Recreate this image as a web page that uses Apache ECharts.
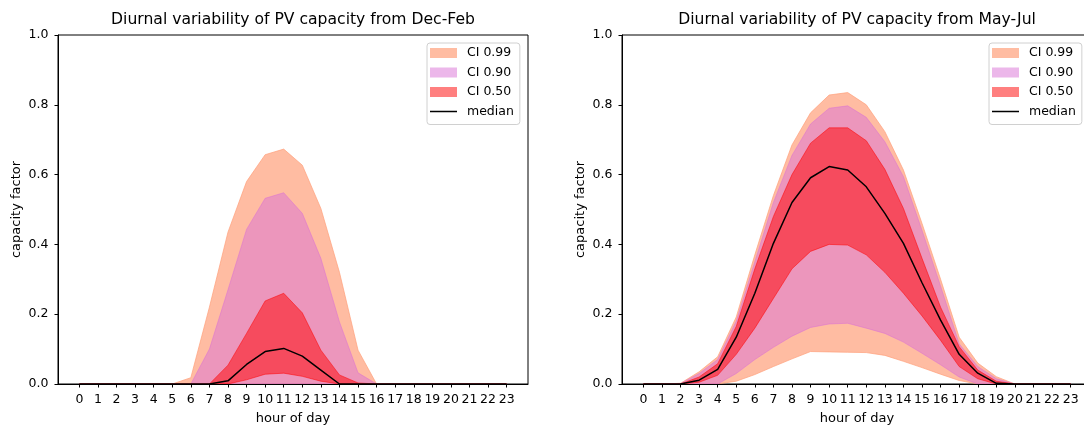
<!DOCTYPE html>
<html>
<head>
<meta charset="utf-8">
<script src="https://cdn.jsdelivr.net/npm/echarts@6/dist/echarts.min.js"></script>
<style>
  html, body { margin: 0; padding: 0; background: #fff; }
  #main { width: 1084px; height: 425px; }
</style>
</head>
<body>
<div id="main"></div>
<script>
// hours on the x axis
var hours = [0,1,2,3,4,5,6,7,8,9,10,11,12,13,14,15,16,17,18,19,20,21,22,23];

// Dec-Feb
var winLo99 = [0,0,0,0,0,0,0,0,0,0,0,0,0,0,0,0,0,0,0,0,0,0,0,0];
var winHi99 = [0,0,0,0,0,0,0.018,0.22,0.435,0.58,0.657,0.673,0.627,0.503,0.32,0.097,0,0,0,0,0,0,0,0];
var winLo90 = [0,0,0,0,0,0,0,0,0,0,0,0,0,0,0,0,0,0,0,0,0,0,0,0];
var winHi90 = [0,0,0,0,0,0,0,0.10,0.27,0.443,0.532,0.548,0.489,0.36,0.178,0.032,0,0,0,0,0,0,0,0];
var winLo50 = [0,0,0,0,0,0,0,0,0,0.012,0.028,0.031,0.022,0.008,0,0,0,0,0,0,0,0,0,0];
var winHi50 = [0,0,0,0,0,0,0,0,0.054,0.145,0.238,0.26,0.204,0.097,0.026,0.003,0,0,0,0,0,0,0,0];
var winMed  = [0,0,0,0,0,0,0,0,0.009,0.056,0.093,0.102,0.08,0.04,0,0,0,0,0,0,0,0,0,0];

// May-Jul
var sumLo99 = [0,0,0,0,0,0.008,0.027,0.05,0.072,0.093,0.092,0.091,0.09,0.082,0.065,0.047,0.028,0.01,0,0,0,0,0,0];
var sumHi99 = [0,0,0.002,0.035,0.078,0.192,0.37,0.54,0.685,0.777,0.828,0.835,0.80,0.723,0.613,0.46,0.30,0.134,0.06,0.021,0,0,0,0];
var sumLo90 = [0,0,0,0,0,0.03,0.07,0.105,0.137,0.162,0.172,0.174,0.16,0.145,0.12,0.088,0.055,0.02,0,0,0,0,0,0];
var sumHi90 = [0,0,0.001,0.03,0.07,0.18,0.35,0.52,0.655,0.745,0.79,0.797,0.764,0.694,0.594,0.44,0.28,0.115,0.05,0.015,0,0,0,0];
var sumLo50 = [0,0,0,0.005,0.025,0.085,0.16,0.245,0.33,0.38,0.40,0.398,0.37,0.32,0.26,0.195,0.125,0.05,0.015,0,0,0,0,0];
var sumHi50 = [0,0,0,0.02,0.058,0.165,0.33,0.48,0.60,0.69,0.734,0.734,0.697,0.615,0.503,0.36,0.22,0.107,0.04,0.008,0,0,0,0];
var sumMed  = [0,0,0,0.011,0.042,0.134,0.26,0.403,0.52,0.591,0.623,0.613,0.565,0.489,0.403,0.29,0.183,0.085,0.031,0.002,0,0,0,0];

var c99 = 'rgba(255,160,122,0.7)';
var c90 = 'rgba(218,112,214,0.5)';
var c50 = 'rgba(255,0,0,0.5)';
var font = 'DejaVu Sans';

var myChart = echarts.init(document.getElementById('main'));

// filled band between lo and hi, drawn as one polygon through the axis scales
function band(idx, lo, hi, color, name) {
  return {
    name: name, type: 'custom', xAxisIndex: idx, yAxisIndex: idx,
    data: hours.map(function (h, i) { return [h, lo[i], hi[i]]; }),
    encode: { x: 0, y: [1, 2] },
    itemStyle: { color: color },
    clip: true,
    renderItem: function (params, api) {
      if (params.dataIndexInside !== 0) return;
      var n = params.dataInsideLength, top = [], bot = [];
      for (var j = 0; j < n; j++) {
        top.push(api.coord([api.value(0, j), api.value(2, j)]));
        bot.unshift(api.coord([api.value(0, j), api.value(1, j)]));
      }
      return {
        type: 'polygon',
        shape: { points: top.concat(bot) },
        style: { fill: color, stroke: color, lineWidth: 1 }
      };
    }
  };
}

function plotSeries(idx, d) {
  return [
    band(idx, d[0], d[1], c99, 'CI 0.99'),
    band(idx, d[2], d[3], c90, 'CI 0.90'),
    band(idx, d[4], d[5], c50, 'CI 0.50'),
    {
      name: 'median', type: 'line', xAxisIndex: idx, yAxisIndex: idx,
      data: hours.map(function (h, i) { return [h, d[6][i]]; }), symbol: 'none',
      lineStyle: { color: '#000', width: 1.5 }
    }
  ];
}

var grids = [
  { left: 58, top: 35, width: 470, height: 349 },
  { left: 622, top: 35, width: 470, height: 349 }
];

function xAx(i) {
  return {
    gridIndex: i, type: 'value', min: -1.15, max: 24.15,
    name: 'hour of day', nameLocation: 'middle', nameGap: 28,
    nameTextStyle: { color: '#000', fontSize: 13, fontFamily: font },
    axisLine: { onZero: false, lineStyle: { color: '#000', width: 1 } },
    axisTick: { length: 3.5, lineStyle: { color: '#000' }, customValues: hours },
    axisLabel: { color: '#000', fontSize: 12.5, fontFamily: font, margin: 9, customValues: hours },
    splitLine: { show: false }
  };
}
function yAx(i) {
  return {
    gridIndex: i, type: 'value', min: 0, max: 1, interval: 0.2,
    name: 'capacity factor', nameLocation: 'middle', nameGap: 35,
    nameTextStyle: { color: '#000', fontSize: 13, fontFamily: font },
    axisLine: { show: true, onZero: false, lineStyle: { color: '#000', width: 1 } },
    axisTick: { show: true, length: 3.5, lineStyle: { color: '#000' } },
    axisLabel: { color: '#000', fontSize: 12.5, fontFamily: font, margin: 9.5,
      formatter: function (v) { return v.toFixed(1); } },
    splitLine: { show: false }
  };
}

var medIcon = 'path://M0,0 L1,0 Z M0,4.2 L27,4.2 L27,5.8 L0,5.8 Z M0,10 L1,10 Z';
function legendData() {
  return [
    { name: 'CI 0.99', icon: 'rect', itemStyle: { color: c99, borderWidth: 0 } },
    { name: 'CI 0.90', icon: 'rect', itemStyle: { color: c90, borderWidth: 0 } },
    { name: 'CI 0.50', icon: 'rect', itemStyle: { color: c50, borderWidth: 0 } },
    { name: 'median', icon: medIcon, itemStyle: { color: '#000', borderWidth: 0 } }
  ];
}
function legend(left) {
  return {
    data: legendData(), orient: 'vertical', left: left, top: 43,
    itemWidth: 27, itemHeight: 10, itemGap: 5.5, symbolKeepAspect: false,
    padding: [3, 6, 6, 3],
    backgroundColor: 'rgba(255,255,255,0.8)', borderColor: '#d0d0d0', borderWidth: 1, borderRadius: 3,
    textStyle: { color: '#000', fontSize: 12.5, fontFamily: font, lineHeight: 14, padding: [0, 0, 0, 5] },
    selectedMode: false
  };
}

var option = {
  animation: false,
  backgroundColor: '#fff',
  grid: grids.map(function (g) {
    return Object.assign({ show: true, borderColor: '#000', borderWidth: 1,
      containLabel: false, outerBoundsMode: 'none' }, g);
  }),
  xAxis: [xAx(0), xAx(1)],
  yAxis: [yAx(0), yAx(1)],
  legend: [legend(427), legend(989)],
  graphic: [
    { type: 'text', x: 293, y: 20, style: { text: 'Diurnal variability of PV capacity from Dec-Feb',
      fill: '#000', font: '15.6px "DejaVu Sans"', textAlign: 'center', textVerticalAlign: 'middle' } },
    { type: 'text', x: 857, y: 20, style: { text: 'Diurnal variability of PV capacity from May-Jul',
      fill: '#000', font: '15.6px "DejaVu Sans"', textAlign: 'center', textVerticalAlign: 'middle' } }
  ],
  series: [].concat(
    plotSeries(0, [winLo99, winHi99, winLo90, winHi90, winLo50, winHi50, winMed]),
    plotSeries(1, [sumLo99, sumHi99, sumLo90, sumHi90, sumLo50, sumHi50, sumMed])
  )
};

myChart.setOption(option);
</script>
</body>
</html>
